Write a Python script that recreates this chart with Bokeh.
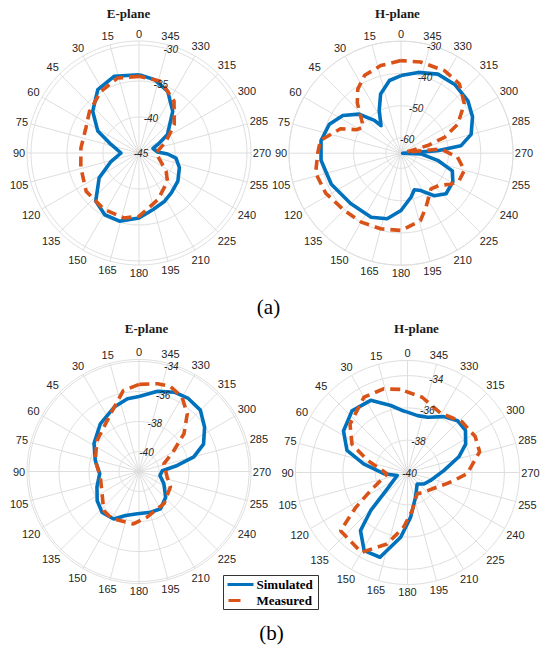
import numpy as np
from bokeh.plotting import figure
from bokeh.models import Range1d
from bokeh.embed import file_html
from bokeh.resources import INLINE
from bokeh.core.properties import value

# ---------------- data (angle in degrees, level in dB) ----------------
theta_ticks = list(range(0, 360, 15))
theta_labels = [str(a) for a in theta_ticks]

# (a) E-plane
ea_sim_ang = [0, 18, 33, 48, 62, 73, 90, 107, 122, 138, 151, 164, 180, 194, 208, 219, 234, 250, 262, 268, 273, 288, 296, 303, 321, 335, 348]
ea_sim_db = [-34.12, -33.80, -34.49, -36.34, -38.52, -40.93, -42.5, -40.93, -38.47, -36.02, -35.19, -35.14, -35.97, -36.9, -37.41, -37.87, -38.33, -39.03, -39.81, -41.02, -42.41, -42.96, -41.85, -40.28, -37.55, -35.56, -34.58]
ea_mea_ang = [0, 16, 32, 50, 65, 85, 104, 126, 148, 167, 180, 202, 225, 236, 270, 293, 309, 326, 343]
ea_mea_db = [-34.35, -34.17, -34.95, -36.02, -36.85, -36.9, -36.67, -35.93, -35.79, -35.74, -36.2, -38.01, -39.4, -40.46, -42.64, -40.93, -38.7, -36.3, -34.58]
ea_rticks = [-45, -40, -35, -30]

# (a) H-plane
ha_sim_ang = [0, 9, 19, 27, 36, 39, 47, 57, 68, 81, 95, 114, 135, 155, 168, 180, 193, 200, 208, 218, 228, 241, 251, 259, 268, 270, 272, 274, 277, 285, 297, 308, 322, 335, 348]
ha_sim_db = [-40.65, -41.89, -45.3, -49.84, -54.17, -51.59, -46.95, -43.23, -40.76, -39.62, -39.83, -41.07, -42.62, -42.82, -43.96, -46.95, -50.77, -52.63, -51.59, -47.98, -45.92, -46.33, -47.88, -53.14, -58.51, -64.2, -61.6, -53.35, -46.02, -42.2, -39.83, -38.38, -37.66, -37.66, -39.11]
ha_mea_ang = [0, 13, 25, 34, 41, 55, 62, 68, 81, 90, 103, 118, 135, 150, 165, 180, 196, 205, 220, 230, 238, 245, 255, 266, 276, 282, 286, 290, 297, 308, 320, 332, 348]
ha_mea_db = [-36.01, -36.84, -38.07, -40.76, -44.06, -50.46, -49.2, -44.48, -39.42, -38.9, -37.56, -38.28, -39.73, -40.04, -40.45, -40.76, -42.92, -46.33, -50.25, -49.2, -46.54, -44.78, -44.37, -47.16, -52.3, -63.0, -56.1, -50.4, -45.0, -39.8, -36.6, -35.8, -35.8]
ha_rticks = [-60, -50, -40, -30]

# (b) E-plane
eb_sim_ang = [0, 9, 21, 39, 58, 76, 93, 110, 125, 138, 152, 163, 178, 196, 210, 226, 244, 259, 272, 279, 285, 293, 304, 315, 326, 336, 347]
eb_sim_db = [-36.33, -36.42, -36.73, -37.24, -37.8, -38.33, -38.71, -38.35, -37.93, -37.66, -37.75, -38.26, -38.51, -38.51, -38.46, -38.86, -39.49, -39.91, -39.77, -38.75, -37.55, -36.66, -36.06, -35.55, -35.46, -35.55, -35.84]
eb_mea_ang = [0, 11, 26, 54, 76, 98, 121, 138, 150, 174, 190, 218, 244, 259, 287, 301, 310, 320, 330, 340, 348]
eb_mea_db = [-35.53, -35.84, -37.04, -37.86, -38.33, -38.73, -38.46, -37.82, -37.71, -37.82, -38.24, -38.62, -39.0, -39.42, -39.6, -38.62, -37.42, -36.33, -35.6, -35.29, -35.35]
eb_rticks = [-40, -38, -36, -34]

# (b) H-plane
hb_sim_ang = [0, 5, 14, 27, 42, 57, 70, 79, 93, 106, 129, 136, 141, 151, 162, 174, 184, 198, 220, 235, 251, 273, 287, 296, 306, 316, 327, 340, 350]
hb_sim_db = [-36.26, -36.14, -35.72, -34.98, -34.86, -35.27, -36.01, -37.23, -38.53, -39.34, -38.39, -36.71, -35.37, -34.46, -34.48, -35.97, -37.23, -38.39, -39.07, -38.76, -38.49, -37.75, -36.67, -35.99, -35.56, -35.54, -35.87, -36.36, -36.42]
hb_mea_ang = [5, 16, 30, 50, 63, 73, 94, 116, 124, 131, 150, 164, 176, 187, 204, 220, 244, 253, 260, 269, 286, 298, 313, 331, 349]
hb_mea_db = [-34.83, -34.61, -34.61, -35.35, -36.14, -37.4, -38.74, -37.46, -36.14, -34.5, -34.28, -35.39, -36.61, -37.62, -38.55, -38.41, -37.95, -37.54, -37.09, -36.3, -35.35, -35.25, -35.39, -35.79, -35.25]
hb_rticks = [-40, -38, -36, -34]

titles = ["E-plane", "H-plane", "E-plane", "H-plane"]
series_names = ["Simulated", "Measured"]
sub_labels = ["(a)", "(b)"]

# ---------------- layout ----------------
BLUE = "#0072BD"
ORANGE = "#D95319"
GRID = "#dedede"
TXT = "#262626"
R = 112.0

panels = [
    dict(cx=138.5, cy=152.5, rmin=-45.0, rmax=-29.44, rt=ea_rticks, sim=(ea_sim_ang, ea_sim_db), mea=(ea_mea_ang, ea_mea_db), tpos=(128, 13)),
    dict(cx=400.5, cy=152.7, rmin=-64.7, rmax=-30.0, rt=ha_rticks, sim=(ha_sim_ang, ha_sim_db), mea=(ha_mea_ang, ha_mea_db), tpos=(397, 13)),
    dict(cx=138.5, cy=471.0, rmin=-41.33, rmax=-33.87, rt=eb_rticks, sim=(eb_sim_ang, eb_sim_db), mea=(eb_mea_ang, eb_mea_db), tpos=(146, 328)),
    dict(cx=407.0, cy=472.0, rmin=-40.0, rmax=-33.06, rt=hb_rticks, sim=(hb_sim_ang, hb_sim_db), mea=(hb_mea_ang, hb_mea_db), tpos=(416, 328)),
]

p = figure(width=541, height=646, x_range=Range1d(0, 541), y_range=Range1d(646, 0),
           output_backend="svg", toolbar_location=None, min_border=0,
           x_axis_location=None, y_axis_location=None)
p.grid.visible = False
p.outline_line_color = None
p.background_fill_color = "white"
p.border_fill_color = "white"


def to_xy(pn, ang, db):
    r = np.clip((np.asarray(db, float) - pn["rmin"]) / (pn["rmax"] - pn["rmin"]), 0, None) * R
    t = np.radians(np.asarray(ang, float))
    return pn["cx"] - r * np.sin(t), pn["cy"] - r * np.cos(t)


circ = np.radians(np.linspace(0, 360, 241))
for i, pn in enumerate(panels):
    cx, cy = pn["cx"], pn["cy"]
    xs, ys = [], []
    for v in pn["rt"] + [pn["rmax"]]:
        rr = (v - pn["rmin"]) / (pn["rmax"] - pn["rmin"]) * R
        if rr <= 0.5:
            continue
        xs.append(list(cx + rr * np.cos(circ)))
        ys.append(list(cy + rr * np.sin(circ)))
    p.multi_line(xs, ys, line_color=GRID, line_width=1)
    sx = [[cx, cx - R * np.sin(np.radians(a))] for a in theta_ticks]
    sy = [[cy, cy - R * np.cos(np.radians(a))] for a in theta_ticks]
    p.multi_line(sx, sy, line_color=GRID, line_width=1)
    # theta labels: box edge kept a fixed gap from the outer ring
    lx, ly = [], []
    for a, s in zip(theta_ticks, theta_labels):
        t = np.radians(a)
        w = 6.0 * len(s)
        d = R + 2 + abs(np.sin(t)) * w / 2 + abs(np.cos(t)) * 5.5
        lx.append(cx - d * np.sin(t))
        ly.append(cy - d * np.cos(t))
    p.text(lx, ly, text=theta_labels, text_align="center", text_baseline="middle",
           text_font=value("Liberation Sans"), text_font_size="11px", text_color=TXT)
    sa, sd = pn["sim"]
    x, y = to_xy(pn, list(sa) + [sa[0]], list(sd) + [sd[0]])
    p.line(x, y, line_color=BLUE, line_width=3.6, line_join="round")
    ma, md = pn["mea"]
    x, y = to_xy(pn, list(ma) + [ma[0]], list(md) + [md[0]])
    p.line(x, y, line_color=ORANGE, line_width=3.6, line_dash="10 6")
    rx, ry = to_xy(pn, [344] * len(pn["rt"]), pn["rt"])
    p.text(list(rx + 2), list(ry), text=[str(v) for v in pn["rt"]], text_align="center", text_baseline="middle",
           text_font=value("Liberation Sans"), text_font_size="10px", text_font_style="italic", text_color=TXT)
    p.text([pn["tpos"][0]], [pn["tpos"][1]], text=[titles[i]], text_align="center", text_baseline="middle",
           text_font=value("Liberation Serif"), text_font_size="13px", text_font_style="bold", text_color="#1a1a1a")

p.text([268, 271], [306, 632], text=sub_labels, text_align="center", text_baseline="middle",
       text_font=value("Liberation Serif"), text_font_size="21px", text_color="black")

p.quad(left=[223], right=[318], top=[575], bottom=[609], fill_color="white", line_color="#333333", line_width=1)
p.line([227, 253], [584, 584], line_color=BLUE, line_width=3.2)
p.line([228, 240], [600, 600], line_color=ORANGE, line_width=3.2)
p.text([256, 256], [584, 600], text=series_names, text_align="left", text_baseline="middle",
       text_font=value("Liberation Serif"), text_font_size="13px", text_font_style="bold", text_color="black")

open("out.html", "w").write(file_html(p, INLINE))
